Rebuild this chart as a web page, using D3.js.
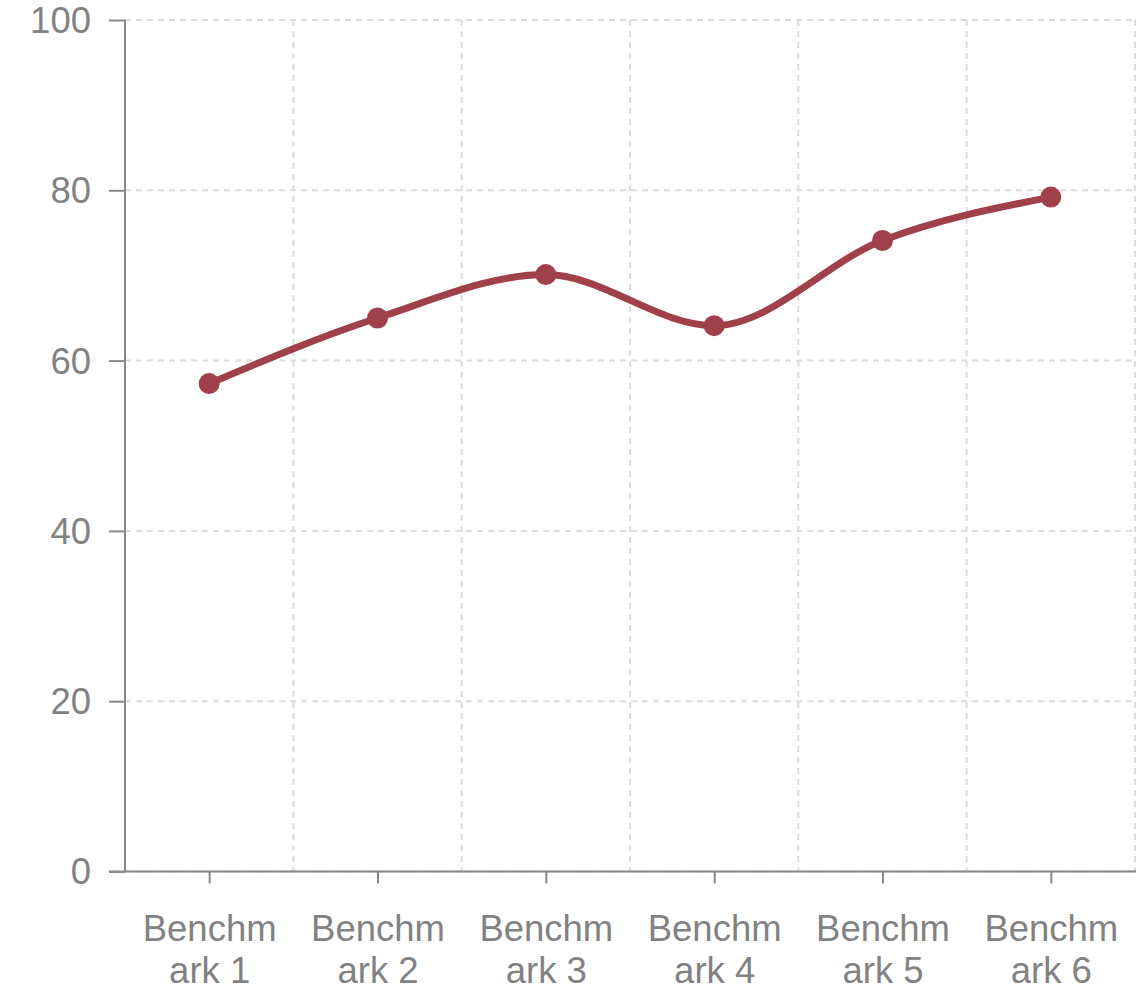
<!DOCTYPE html>
<html><head><meta charset="utf-8">
<script src="https://cdn.jsdelivr.net/npm/d3@7"></script>
<style>body{margin:0;background:#fff;} text{font-family:"Liberation Sans",Arial,sans-serif;}</style>
</head><body>
<svg id="chart" width="1145" height="992"></svg>
<script>
const categories = ["Benchmark 1","Benchmark 2","Benchmark 3","Benchmark 4","Benchmark 5","Benchmark 6"];
const values = [57.3, 65.0, 70.1, 64.1, 74.1, 79.2];
const yTicks = [0, 20, 40, 60, 80, 100];

const svg = d3.select("#chart");
const pLeft = 125, pRight = 1135, pTop = 20, pBottom = 871.5;
const x = d3.scalePoint().domain(categories).range([pLeft, pRight]).padding(0.5);
const y = d3.scaleLinear().domain([0, 100]).range([pBottom, pTop]);
const step = x.step();
const gridColor = "#dcdcdc", axisColor = "#888", textColor = "#828282";
const fs = 36.5;

// grid
const g = svg.append("g");
g.selectAll(".hg").data(yTicks).join("line")
  .attr("x1", pLeft).attr("x2", pRight + 1).attr("y1", d => y(d)).attr("y2", d => y(d))
  .attr("stroke", gridColor).attr("stroke-width", 2).attr("stroke-dasharray", "6,5");
g.selectAll(".vg").data(categories).join("line")
  .attr("x1", d => x(d) + step / 2).attr("x2", d => x(d) + step / 2)
  .attr("y1", pTop).attr("y2", pBottom)
  .attr("stroke", gridColor).attr("stroke-width", 2).attr("stroke-dasharray", "6,5");

// y axis
const ya = svg.append("g").attr("transform", `translate(${pLeft},0)`)
  .call(d3.axisLeft(y).tickValues(yTicks).tickSize(16).tickPadding(18));
ya.select(".domain").remove();
ya.append("line").attr("x1", 0).attr("x2", 0).attr("y1", pTop).attr("y2", pBottom).attr("stroke", axisColor).attr("stroke-width", 2);
ya.selectAll(".tick line").attr("stroke", axisColor).attr("stroke-width", 2);
ya.selectAll(".tick text").attr("fill", textColor).attr("font-size", fs).attr("dy", "0.34em");

// x axis
const xa = svg.append("g").attr("transform", `translate(0,${pBottom})`)
  .call(d3.axisBottom(x).tickSize(12).tickPadding(10));
xa.select(".domain").remove();
xa.append("line").attr("x1", pLeft - 16).attr("x2", pRight + 1).attr("y1", 0).attr("y2", 0).attr("stroke", axisColor).attr("stroke-width", 2);
xa.selectAll(".tick line").attr("stroke", axisColor).attr("stroke-width", 2);
xa.selectAll(".tick text").attr("fill", textColor).attr("font-size", fs)
  .each(function(d) {
    const t = d3.select(this);
    t.text(null);
    const maxW = 145;
    const lines = [];
    let cur = "";
    const probe = t.append("tspan");
    for (const ch of d) {
      probe.text(cur + ch);
      if (probe.node().getComputedTextLength() > maxW && cur.length) {
        lines.push(cur.trim());
        cur = ch;
      } else cur += ch;
    }
    lines.push(cur.trim());
    probe.remove();
    t.attr("y", 0).attr("dy", null);
    lines.forEach((l, i) => {
      t.append("tspan").attr("x", 0).attr("y", 69 + i * 42).text(l);
    });
  });

// line
const line = d3.line().x((d, i) => x(categories[i])).y(d => y(d)).curve(d3.curveMonotoneX);
const color = "#a0404b";
svg.append("path").datum(values).attr("d", line).attr("fill", "none")
  .attr("stroke", color).attr("stroke-width", 7).attr("stroke-linecap", "round");
svg.selectAll(".pt").data(values).join("circle")
  .attr("cx", (d, i) => x(categories[i])).attr("cy", d => y(d)).attr("r", 10.5).attr("fill", color);
</script>
</body></html>
